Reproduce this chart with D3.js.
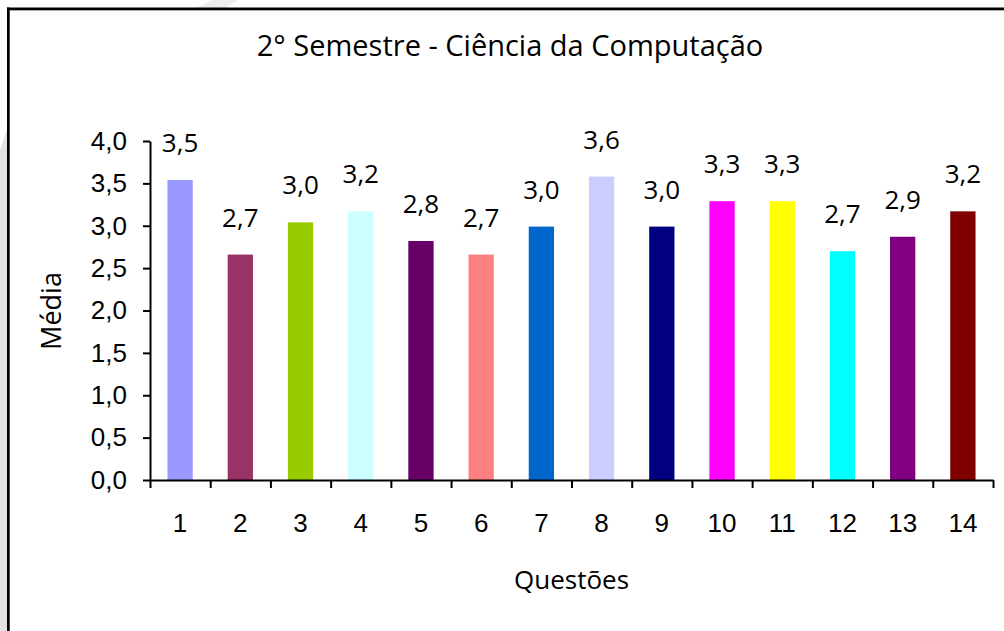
<!DOCTYPE html>
<html>
<head>
<meta charset="UTF-8">
<title>2° Semestre - Ciência da Computação</title>
<script src="https://cdn.jsdelivr.net/npm/d3@7"></script>
<style>
  body { margin: 0; background: white; }
  svg { display: block; font-family: "Open Sans", sans-serif; }
  .axis path, .axis line { stroke: black; stroke-width: 2; }
  .axis text { fill: black; }
</style>
</head>
<body>
<svg width="1004" height="631"></svg>
<script>
const questoes = ["1","2","3","4","5","6","7","8","9","10","11","12","13","14"];
const medias = [3.54, 2.66, 3.04, 3.17, 2.82, 2.66, 2.99, 3.58, 2.99, 3.29, 3.29, 2.70, 2.87, 3.17];
const cores = ["#9999FF","#993366","#99CC00","#CCFFFF","#660066","#FF8080","#0066CC",
               "#CCCCFF","#000080","#FF00FF","#FFFF00","#00FFFF","#800080","#800000"];
const yTicks = [0, 0.5, 1, 1.5, 2, 2.5, 3, 3.5, 4];

const svg = d3.select("svg");
const virgula = d => d.toFixed(1).replace(".", ",");

// moldura
svg.append("polygon").attr("points", "0,150 7,130 7,631 0,631").attr("fill", "#e2e2e2");
svg.append("polygon").attr("points", "196,8 212,0 238,0 226,8").attr("fill", "#ececec");
svg.append("line").attr("x1", 7).attr("x2", 1004).attr("y1", 10.5).attr("y2", 10.5).attr("stroke", "#aaa");
svg.append("line").attr("x1", 9.5).attr("x2", 9.5).attr("y1", 10).attr("y2", 631).attr("stroke", "#888");
svg.append("rect").attr("x", 7).attr("y", 7.5).attr("width", 997).attr("height", 2.5).attr("fill", "black");
svg.append("rect").attr("x", 7).attr("y", 7.5).attr("width", 2.5).attr("height", 624).attr("fill", "black");

const x = d3.scaleBand().domain(questoes).range([150, 993]).padding(0);
const xb = d3.scaleLinear().domain([0, questoes.length]).range([150, 993]);
const y = d3.scaleLinear().domain([0, 4]).range([480, 141]);
const bw = x.bandwidth() * 0.42;

svg.append("text")
  .attr("x", 510).attr("y", 56)
  .attr("text-anchor", "middle")
  .style("font-size", "29px")
  .text("2° Semestre - Ciência da Computação");

svg.selectAll(".bar")
  .data(medias)
  .enter()
  .append("rect")
  .attr("class", "bar")
  .attr("x", (d, i) => x(questoes[i]) + x.bandwidth() / 2 - bw / 2)
  .attr("width", bw)
  .attr("y", d => y(d))
  .attr("height", d => y(0) - y(d))
  .attr("fill", (d, i) => cores[i]);

svg.selectAll(".rotulo")
  .data(medias)
  .enter()
  .append("text")
  .attr("class", "rotulo")
  .attr("x", (d, i) => x(questoes[i]) + x.bandwidth() / 2)
  .attr("y", d => y(d) - 28)
  .attr("text-anchor", "middle")
  .style("font-size", "26px")
  .text(d => virgula(d));

const yAxis = svg.append("g")
  .attr("class", "axis")
  .attr("transform", "translate(150,0)")
  .call(d3.axisLeft(y).tickValues(yTicks).tickSize(7).tickSizeOuter(0).tickPadding(16).tickFormat(virgula));
yAxis.selectAll("text").style("font-size", "26px");

svg.append("g")
  .attr("class", "axis")
  .attr("transform", "translate(0,480)")
  .call(d3.axisBottom(xb).tickValues(d3.range(questoes.length + 1)).tickSize(8).tickSizeOuter(0).tickFormat(""));

const xLab = svg.append("g")
  .attr("class", "axis")
  .attr("transform", "translate(0,480)")
  .call(d3.axisBottom(x).tickSize(0).tickPadding(34));
xLab.select(".domain").remove();
xLab.selectAll("text").style("font-size", "26px");

svg.append("text")
  .attr("x", 571.5).attr("y", 589)
  .attr("text-anchor", "middle")
  .style("font-size", "26px")
  .text("Questões");

svg.append("text")
  .attr("transform", "translate(61,311) rotate(-90)")
  .attr("text-anchor", "middle")
  .style("font-size", "27px")
  .text("Média");
</script>
</body>
</html>
